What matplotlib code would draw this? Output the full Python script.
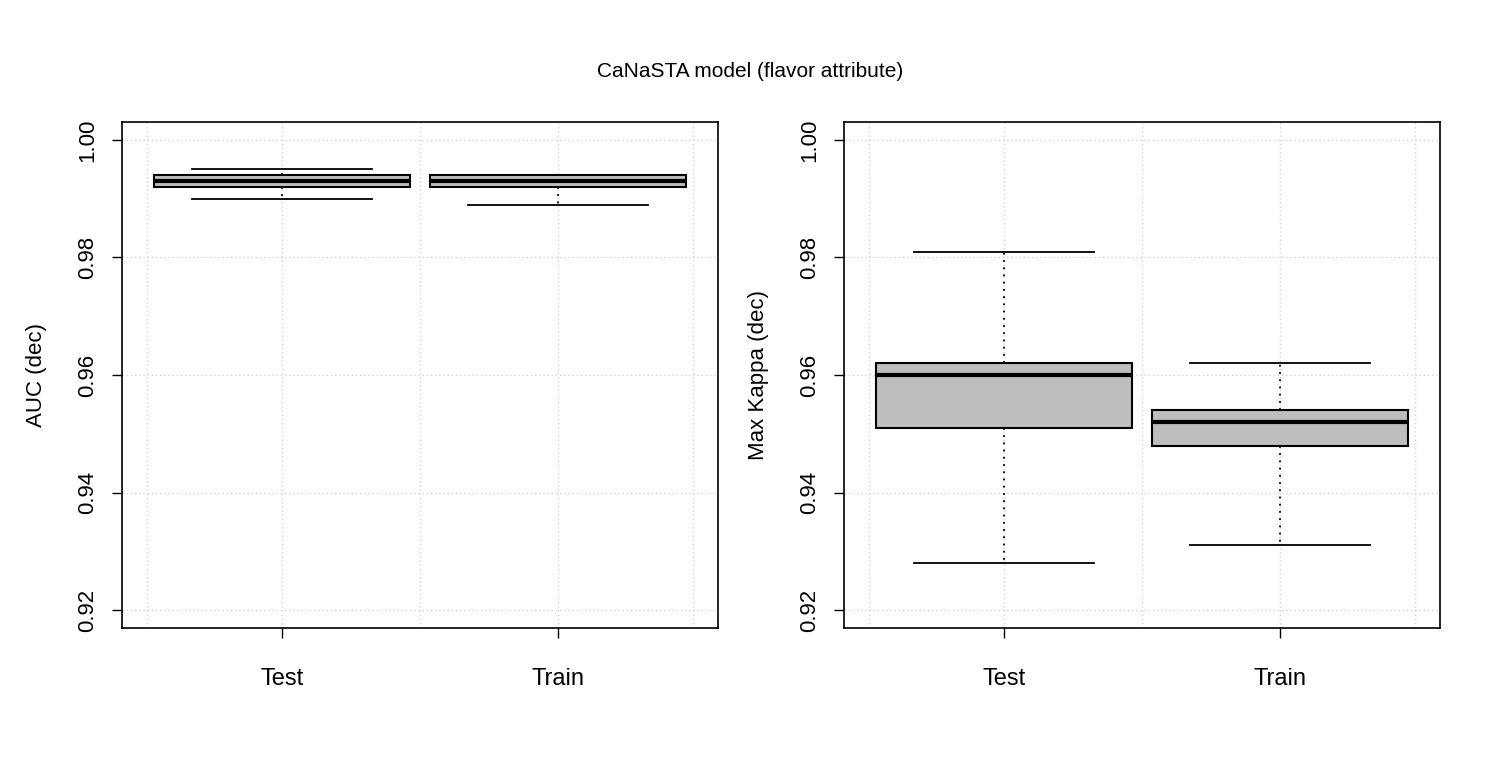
import matplotlib
matplotlib.use("Agg")
import matplotlib.pyplot as plt

groups = ["Test", "Train"]
# (whislo, q1, med, q3, whishi)
auc_stats = [(0.990, 0.992, 0.993, 0.994, 0.995),
             (0.989, 0.992, 0.993, 0.994, 0.994)]
kappa_stats = [(0.928, 0.951, 0.960, 0.962, 0.981),
               (0.931, 0.948, 0.952, 0.954, 0.962)]
yticks = [0.92, 0.94, 0.96, 0.98, 1.00]

fig = plt.figure(figsize=(15.03, 7.81), dpi=100)
plt.rcParams["font.family"] = ["Liberation Sans", "DejaVu Sans"]
fig.text(0.499, 0.908, "CaNaSTA model (flavor attribute)", ha="center", va="center", fontsize=15)


def draw_panel(rect, stats, ylabel):
    ax = fig.add_axes(rect)
    bxp = [dict(whislo=s[0], q1=s[1], med=s[2], q3=s[3], whishi=s[4], fliers=[], label=g)
           for s, g in zip(stats, groups)]
    ax.bxp(bxp, positions=[1, 2], widths=0.93, patch_artist=True, showfliers=False,
           boxprops=dict(facecolor="#bebebe", edgecolor="black", linewidth=1.5),
           medianprops=dict(color="black", linewidth=3),
           whiskerprops=dict(color="black", linestyle=(0, (1, 3)), linewidth=1.3),
           capprops=dict(color="black", linewidth=1.3), capwidths=0.65)
    ax.set_xlim(0.42, 2.58)
    ax.set_ylim(0.91694, 1.00306)
    ax.set_yticks(yticks)
    ax.set_yticklabels([f"{v:.2f}" for v in yticks], rotation=90, va="center", fontsize=16)
    ax.set_xticks([1, 2])
    ax.set_xticklabels(groups, fontsize=17)
    ax.tick_params(axis="y", length=7, width=1, pad=10)
    ax.tick_params(axis="x", length=7, width=1, pad=22)
    ax.set_ylabel(ylabel, fontsize=16, labelpad=22)
    for x in [0.51, 1.0, 1.5, 2.0, 2.49]:
        ax.axvline(x, color="lightgray", linestyle=(0, (1, 2)), linewidth=1, zorder=0)
    for y in yticks:
        ax.axhline(y, color="lightgray", linestyle=(0, (1, 2)), linewidth=1, zorder=0)
    for sp in ax.spines.values():
        sp.set_linewidth(1.2)
    return ax


draw_panel([122 / 1503, 1 - 628 / 781, 596 / 1503, 506 / 781], auc_stats, "AUC (dec)")
draw_panel([844 / 1503, 1 - 628 / 781, 596 / 1503, 506 / 781], kappa_stats, "Max Kappa (dec)")

fig.savefig("out.png", dpi=100)
